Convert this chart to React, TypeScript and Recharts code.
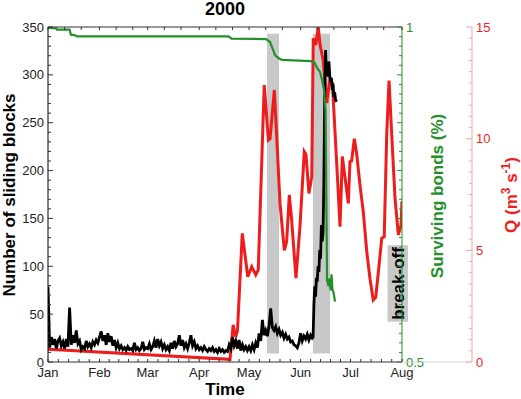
import React from 'react';
import { ComposedChart, Line, XAxis, YAxis, ReferenceArea } from 'recharts';

const FONT = '"Liberation Sans", Arial, Helvetica, sans-serif';

// ---- axis categories / tick labels ----
const monthLabels = ['Jan', 'Feb', 'Mar', 'Apr', 'May', 'Jun', 'Jul', 'Aug'];
const monthStartDays = [0, 31, 60, 91, 121, 152, 182, 213];
const topTickDays = [0, 10, 20, 31, 41, 51, 60, 70, 80, 91, 101, 111, 121, 131, 141, 152, 162, 172, 182, 192, 202, 213];
const blockMajorTicks = [0, 50, 100, 150, 200, 250, 300, 350];
const qMajorTicks = [0, 5, 10, 15];
const bondTickLabels = [0.5, 1];

// ---- series: number of sliding blocks (daily, day 0 = 1 Jan) ----
const blockCountsDaily = [
  // Jan
  79, 15, 26, 18, 24, 14, 22, 25, 17, 21, 14, 24, 16, 57, 18, 28, 20, 33, 19, 22, 13, 16, 14, 22, 16, 19, 15, 21, 18, 23, 20,
  // Feb
  26, 32, 22, 28, 18, 30, 21, 27, 17, 23, 15, 20, 14, 17, 13, 15, 12, 16, 13, 14, 12, 20, 13, 15, 12, 14, 21, 13, 15,
  // Mar
  14, 19, 13, 16, 22, 15, 24, 17, 21, 14, 18, 13, 16, 12, 20, 14, 22, 16, 19, 28, 17, 23, 15, 19, 14, 20, 28, 17, 21, 14, 17,
  // Apr
  13, 15, 12, 16, 13, 11, 14, 12, 15, 11, 13, 10, 14, 11, 13, 10, 12, 11, 18, 14, 26, 17, 22, 14, 23, 12, 18, 13, 16, 12,
  // May .. 8 Jun
  16, 12, 18, 13, 20, 15, 30, 22, 44, 28, 33, 27, 38, 56, 36, 33, 37, 30, 34, 28, 31, 25, 29, 24, 26, 21, 22, 18, 17, 15,
  20, 30, 22, 27, 24, 29, 23, 28, 25,
];
// break-off surge (half-day steps)
const blockSurgeDays = [159.5, 160, 160.5, 161, 161.5, 162, 162.5, 163, 163.5, 164, 164.5, 165, 165.5, 166, 166.5, 167, 167.5, 168, 168.5, 169, 169.5, 170, 170.5, 171, 171.5, 172, 172.5, 173, 173.7];
const blockSurgeCounts = [26, 60, 79, 68, 88, 84, 100, 94, 117, 108, 143, 126, 135, 190, 280, 326, 302, 312, 298, 314, 300, 293, 297, 284, 291, 277, 282, 274, 272];

// ---- series: discharge Q (m3/s) ----
const qDays = [0, 109.5, 111.4, 112.9, 114.0, 116.9, 120.2, 122.6, 125.0, 126.5, 130.1, 132.6, 133.6, 136.2, 139.6, 142.2, 143.6, 145.2, 146.6, 149.2, 151.6, 154.2, 155.2, 157.0, 158.7, 159.6, 161.1, 162.6, 163.7, 165.6, 167.7, 169.7, 171.1, 172.7, 174.3, 175.7, 177.1, 180.7, 181.7, 182.7, 184.3, 185.7, 187.7, 189.7, 191.8, 193.7, 195.7, 197.2, 199.2, 200.8, 202.3, 203.8, 205.2, 206.8, 208.8, 210.8, 212.4, 213];
const qValues = [0.57, 0.12, 1.66, 1.13, 1.4, 5.76, 3.82, 4.27, 3.9, 4.12, 12.4, 9.94, 10.0, 12.18, 7.1, 5.0, 5.39, 7.48, 6.36, 3.75, 6.06, 9.42, 9.3, 7.55, 8.3, 14.5, 14.2, 15.0, 14.2, 13.5, 11.6, 12.7, 12.5, 10.3, 8.07, 6.06, 9.2, 7.1, 8.97, 9.0, 10.0, 9.34, 7.93, 6.73, 4.94, 3.75, 2.78, 2.9, 4.34, 5.54, 5.6, 10.17, 12.6, 10.2, 7.33, 5.69, 6.13, 7.2];

// ---- series: surviving bonds (fraction) ----
const bondDays = [0, 1, 5, 5.5, 13, 13.8, 16, 17.5, 108.6, 110.5, 131.2, 133.6, 134.8, 136.6, 139, 140.8, 158.2, 160.6, 161.9, 163.7, 164.9, 166.1, 167, 167.9, 168.8, 169.4, 170, 170.6, 171.2, 171.8, 172.7];
const bondValues = [1.0, 0.9985, 0.998, 0.996, 0.996, 0.9885, 0.988, 0.986, 0.986, 0.9825, 0.982, 0.9776, 0.97, 0.958, 0.953, 0.951, 0.949, 0.946, 0.939, 0.933, 0.921, 0.906, 0.876, 0.622, 0.613, 0.625, 0.607, 0.631, 0.607, 0.604, 0.59];

// ---- shaded periods & break-off box ----
const shadedPeriods = [
  { from: 131.8, to: 139.0 },
  { from: 159.4, to: 169.7 },
];
const shadeBottom = 9;
const shadeTop = 343;
const breakOffBox = { from: 204.3, to: 216.6, low: 42, high: 122 };

// ---- built tables ----
const blockData = [
  ...blockCountsDaily.map((v, i) => ({ d: i, v })),
  ...blockSurgeDays.map((d, i) => ({ d, v: blockSurgeCounts[i] })),
];
const qData = qDays.map((d, i) => ({ d, v: qValues[i] }));
const bondData = bondDays.map((d, i) => ({ d, v: bondValues[i] }));

const bottomTickDays: number[] = [];
for (let m = 0; m < monthStartDays.length - 1; m++) {
  const a = monthStartDays[m];
  const b = monthStartDays[m + 1];
  for (let k = 0; k < 5; k++) bottomTickDays.push(a + ((b - a) * k) / 5);
}
bottomTickDays.push(213);

const blockTicks: number[] = [];
for (let v = 0; v <= 350; v += 10) blockTicks.push(v);
const bondTicks = blockTicks.map((v) => 0.5 + v / 700);
const qTicks: number[] = [];
for (let v = 0; v <= 30; v++) qTicks.push(v / 2);

const GREEN = '#24902a';
const RED = '#ee1c1c';
const RED_AXIS = '#f4a3a3';
const LABEL = '#222';

const BottomTick = (props: any) => {
  const { x, y, payload } = props;
  const v = payload.value as number;
  const mi = monthStartDays.indexOf(v);
  return (
    <g>
      <line x1={x} x2={x} y1={y} y2={y - 3} stroke="#333" strokeWidth={1} />
      {mi >= 0 && (
        <text x={x} y={y + 15} textAnchor="middle" fontSize={13} fill={LABEL} fontFamily={FONT}>
          {monthLabels[mi]}
        </text>
      )}
    </g>
  );
};

const TopTick = (props: any) => {
  const { x, y } = props;
  return <line x1={x} x2={x} y1={y} y2={y + 3} stroke="#333" strokeWidth={1} />;
};

const LeftTick = (props: any) => {
  const { x, y, payload } = props;
  const v = payload.value as number;
  const major = blockMajorTicks.includes(v);
  return (
    <g>
      <line x1={x} x2={x + (major ? 5 : 3)} y1={y} y2={y} stroke="#333" strokeWidth={1} />
      {major && (
        <text x={x - 4} y={y + 4.5} textAnchor="end" fontSize={13} fill={LABEL} fontFamily={FONT}>
          {v}
        </text>
      )}
    </g>
  );
};

const BondTick = (props: any) => {
  const { x, y, payload } = props;
  const v = payload.value as number;
  const units = Math.round((v - 0.5) * 700);
  const major = units % 50 === 0;
  const lab = bondTickLabels.find((t) => Math.abs(t - v) < 1e-6);
  return (
    <g>
      <line x1={x} x2={x - (major ? 5 : 3)} y1={y} y2={y} stroke={GREEN} strokeWidth={1} />
      {lab !== undefined && (
        <text x={x + 4} y={y + 4.5} textAnchor="start" fontSize={13} fill={GREEN} fontFamily={FONT}>
          {lab}
        </text>
      )}
    </g>
  );
};

const QTick = (props: any) => {
  const { x, y, payload } = props;
  const v = payload.value as number;
  const major = qMajorTicks.includes(v);
  return (
    <g>
      {v === 0 && <line x1={x - 70} x2={x} y1={y} y2={y} stroke="#d8d8d8" strokeWidth={1} />}
      <line x1={x} x2={x - (major ? 6 : 3)} y1={y} y2={y} stroke={RED_AXIS} strokeWidth={1} />
      {major && (
        <text x={x + 4} y={y + 4.5} textAnchor="start" fontSize={13} fill={RED} fontFamily={FONT}>
          {v}
        </text>
      )}
    </g>
  );
};

const BreakOffLabel = (props: any) => {
  const vb = props.viewBox || {};
  const cx = vb.x + vb.width / 2;
  const cy = vb.y + vb.height / 2;
  return (
    <text
      transform={`translate(${cx + 6.5},${cy}) rotate(-90)`}
      textAnchor="middle"
      fontSize={17}
      fontWeight="bold"
      fill="#000"
      fontFamily={FONT}
    >
      break-off
    </text>
  );
};

export default function App() {
  return (
    <div style={{ position: 'absolute', left: 0, top: 0, width: 521, height: 399, background: '#fff' }}>
      <ComposedChart width={521} height={399} margin={{ top: 0, right: 0, bottom: 0, left: 0 }}>
        <XAxis
          xAxisId="b"
          dataKey="d"
          type="number"
          domain={[0, 213]}
          ticks={bottomTickDays}
          interval={0}
          orientation="bottom"
          height={37}
          tickSize={0}
          tickMargin={0}
          tickLine={false}
          axisLine={{ stroke: '#333' }}
          tick={<BottomTick />}
          allowDataOverflow
        />
        <XAxis
          xAxisId="t"
          dataKey="d"
          type="number"
          domain={[0, 213]}
          ticks={topTickDays}
          interval={0}
          orientation="top"
          height={27}
          tickSize={0}
          tickMargin={0}
          tickLine={false}
          axisLine={{ stroke: '#333' }}
          tick={<TopTick />}
          allowDataOverflow
        />
        <YAxis
          yAxisId="n"
          type="number"
          domain={[0, 350]}
          ticks={blockTicks}
          interval={0}
          width={48}
          tickSize={0}
          tickMargin={0}
          tickLine={false}
          axisLine={{ stroke: '#000' }}
          tick={<LeftTick />}
          allowDataOverflow
        />
        <YAxis
          yAxisId="g"
          type="number"
          orientation="right"
          domain={[0.5, 1]}
          ticks={bondTicks}
          interval={0}
          width={70}
          tickSize={0}
          tickMargin={0}
          tickLine={false}
          axisLine={{ stroke: GREEN }}
          tick={<BondTick />}
          allowDataOverflow
        />
        <YAxis
          yAxisId="q"
          type="number"
          orientation="right"
          domain={[0, 15]}
          ticks={qTicks}
          interval={0}
          width={49}
          tickSize={0}
          tickMargin={0}
          tickLine={false}
          axisLine={{ stroke: RED_AXIS }}
          tick={<QTick />}
          allowDataOverflow
        />
        {shadedPeriods.map((p, i) => (
          <ReferenceArea
            key={i}
            xAxisId="b"
            yAxisId="n"
            x1={p.from}
            x2={p.to}
            y1={shadeBottom}
            y2={shadeTop}
            fill="#c8c8c8"
            fillOpacity={1}
            stroke="none"
          />
        ))}
        <ReferenceArea
          xAxisId="b"
          yAxisId="n"
          x1={breakOffBox.from}
          x2={breakOffBox.to}
          y1={breakOffBox.low}
          y2={breakOffBox.high}
          fill="#c8c8c8"
          fillOpacity={1}
          stroke="none"
          ifOverflow="visible"
          label={<BreakOffLabel />}
        />
        <Line
          xAxisId="b"
          yAxisId="q"
          data={qData}
          dataKey="v"
          type="linear"
          stroke={RED}
          strokeWidth={3}
          dot={false}
          isAnimationActive={false}
        />
        <Line
          xAxisId="b"
          yAxisId="n"
          data={blockData}
          dataKey="v"
          type="linear"
          stroke="#000"
          strokeWidth={2.8}
          dot={false}
          isAnimationActive={false}
        />
        <Line
          xAxisId="b"
          yAxisId="g"
          data={bondData}
          dataKey="v"
          type="linear"
          stroke={GREEN}
          strokeWidth={2.2}
          dot={false}
          isAnimationActive={false}
        />
      </ComposedChart>
      <svg
        width={521}
        height={399}
        style={{ position: 'absolute', left: 0, top: 0, pointerEvents: 'none' }}
        fontFamily={FONT}
      >
        <text x={225} y={15} textAnchor="middle" fontSize={18} fontWeight="bold" fill="#000">
          2000
        </text>
        <text x={225} y={395} textAnchor="middle" fontSize={17} fontWeight="bold" fill="#000">
          Time
        </text>
        <text transform="translate(14.5,195) rotate(-90)" textAnchor="middle" fontSize={17} fontWeight="bold" fill="#000">
          Number of sliding blocks
        </text>
        <text transform="translate(443,196) rotate(-90)" textAnchor="middle" fontSize={17} fontWeight="bold" fill={GREEN}>
          Surviving bonds (%)
        </text>
        <text transform="translate(517,195) rotate(-90)" textAnchor="middle" fontSize={17} fontWeight="bold" fill={RED}>
          Q (m<tspan fontSize={12} dy={-7}>3</tspan>
          <tspan dy={7}> s</tspan>
          <tspan fontSize={12} dy={-7}>-1</tspan>
          <tspan dy={7}>)</tspan>
        </text>
      </svg>
    </div>
  );
}
